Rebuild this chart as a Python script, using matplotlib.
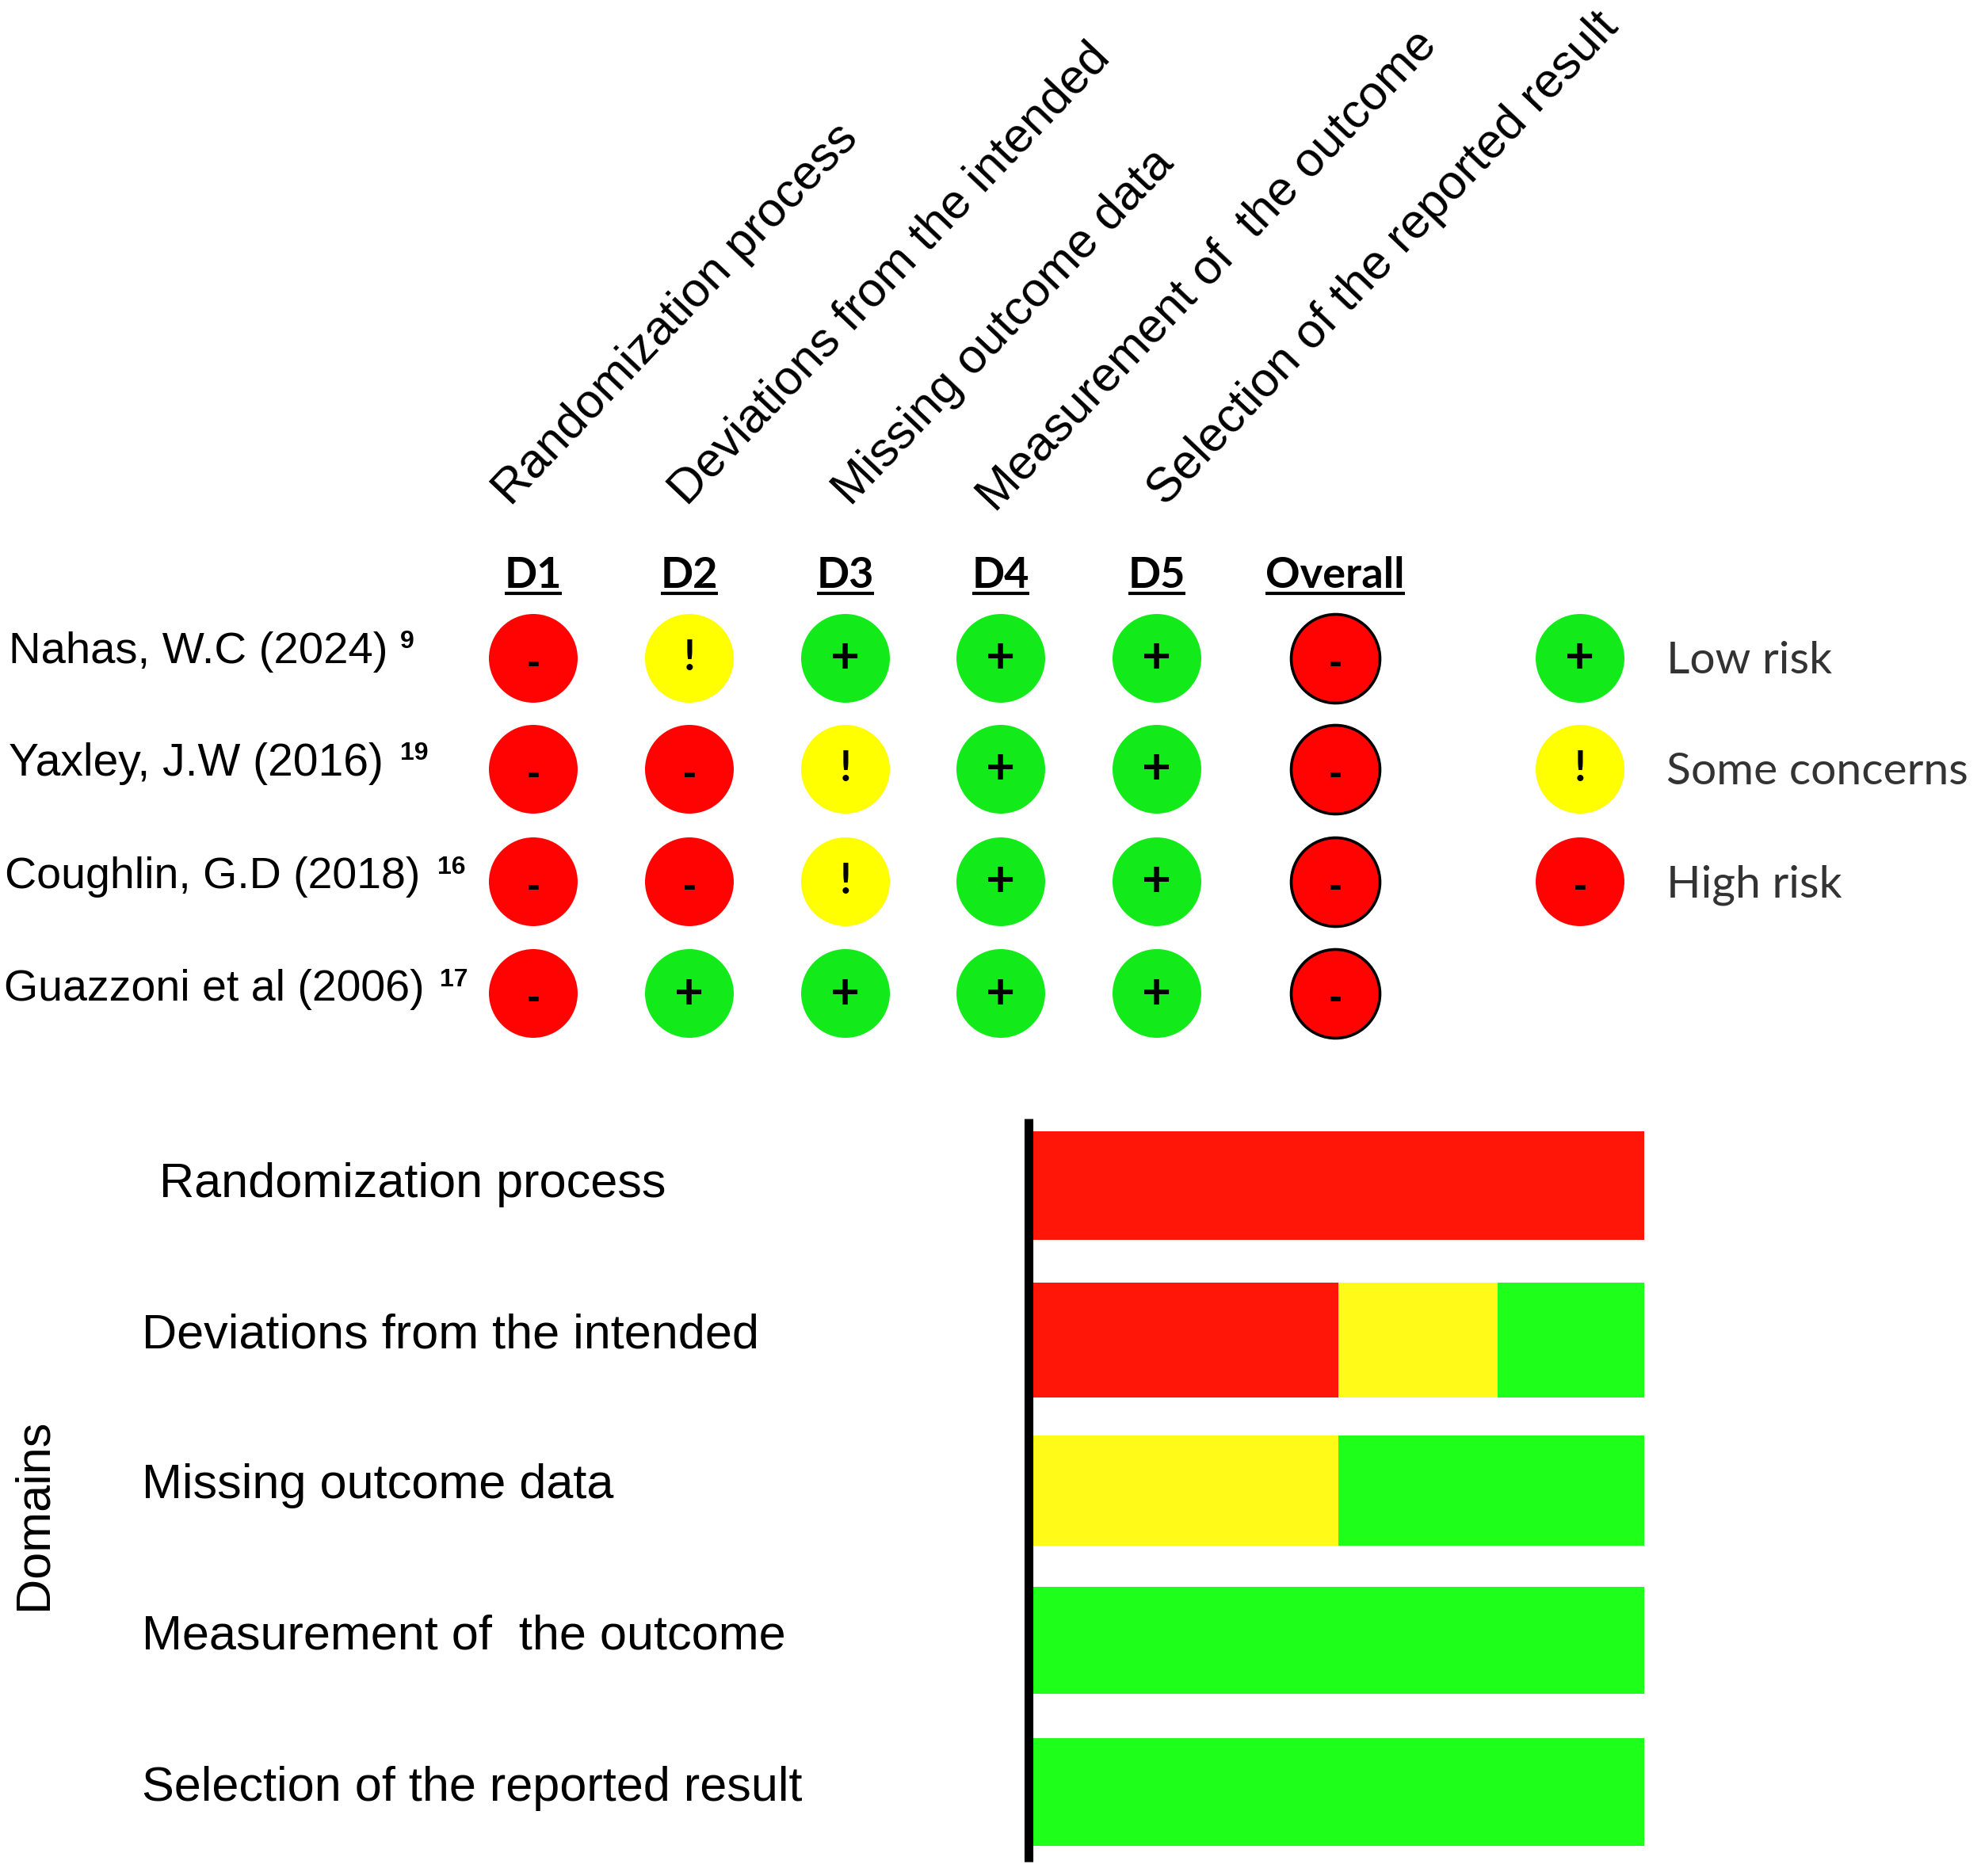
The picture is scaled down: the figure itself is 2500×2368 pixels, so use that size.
import matplotlib
matplotlib.use('Agg')
import matplotlib.pyplot as plt

# traffic light data
studies = ['Nahas, W.C (2024)', 'Yaxley, J.W (2016)', 'Coughlin, G.D (2018)', 'Guazzoni et al (2006)']
refs = ['9', '19', '16', '17']
columns = ['D1', 'D2', 'D3', 'D4', 'D5', 'Overall']
d1 = ['-', '-', '-', '-']
d2 = ['!', '-', '-', '+']
d3 = ['+', '!', '!', '+']
d4 = ['+', '+', '+', '+']
d5 = ['+', '+', '+', '+']
overall = ['-', '-', '-', '-']
legend_symbols = ['+', '!', '-']
legend_labels = ['Low risk', 'Some concerns', 'High risk']

# summary bars, percent per domain
domains = ['Randomization process', 'Deviations from the intended', 'Missing outcome data',
           'Measurement of  the outcome', 'Selection of the reported result']
high = [100, 50, 0, 0, 0]
some = [0, 26, 50, 0, 0]
low = [0, 24, 50, 100, 100]

# layout in pixels of the 2500x2368 picture
col_x = [673, 870, 1067, 1263, 1460, 1685]
row_y = [831, 971, 1113, 1254]
study_x = [11, 11, 6, 5]
study_y = [823, 964, 1107, 1249]
ref_x = [505, 505, 552, 555]
ref_y = [810, 951, 1095, 1237]
study_size = [40.5, 41, 40, 40]
head_start = [(645, 640), (867, 640), (1074, 640), (1256, 648), (1471, 640)]
dom_x = [201, 179, 179, 179, 179]
dom_y = [1496, 1686, 1875, 2066, 2258]
circle_colors = {'+': '#12EA1A', '!': '#FFFF00', '-': '#FF0303'}
sym_dy = {'+': 0, '!': 0, '-': 7}
sym_size = {'+': 46, '!': 38}

arial = ['Liberation Sans', 'DejaVu Sans']
calibri = ['Lato', 'DejaVu Sans']

fig = plt.figure(figsize=(25, 23.68), dpi=100)
ax = fig.add_axes([0, 0, 1, 1])
ax.set_xlim(0, 2500)
ax.set_ylim(2368, 0)
ax.axis('off')


def light(x, y, sym, edge=False):
    ax.scatter([x], [y], s=6500, c=circle_colors[sym],
               edgecolors='black' if edge else 'none', linewidths=2.6 if edge else 0, zorder=2)
    if sym == '-':
        ax.text(x, y + sym_dy[sym], '-', ha='center', va='center', fontsize=36, fontweight='bold',
                family=arial, zorder=3)
    else:
        ax.text(x, y + sym_dy[sym], sym, ha='center', va='center', fontsize=sym_size[sym], fontweight='bold',
                family=calibri, zorder=3)


# rotated headers
for i, (x, y) in enumerate(head_start):
    ax.text(x, y, domains[i], rotation=46.5, rotation_mode='anchor', ha='left', va='baseline',
            fontsize=44, family=arial, color='black')

# column heads with underline
fig.canvas.draw()
rend = fig.canvas.get_renderer()
for x, name in zip(col_x, columns):
    t = ax.text(x, 727, name, ha='center', va='center', fontsize=39, fontweight='bold', family=calibri)
    bb = t.get_window_extent(rend)
    ax.plot([bb.x0, bb.x1], [749, 749], color='black', lw=3, solid_capstyle='butt')

# studies and circles
for r in range(len(studies)):
    ax.text(study_x[r], study_y[r], studies[r], ha='left', va='center', fontsize=study_size[r], family=arial)
    ax.text(ref_x[r], ref_y[r], refs[r], ha='left', va='center', fontsize=23, fontweight='bold', family=arial)
for c, col in enumerate([d1, d2, d3, d4, d5, overall]):
    for r, sym in enumerate(col):
        light(col_x[c], row_y[r], sym, edge=columns[c] == 'Overall')

# legend
for r in range(3):
    light(1994, row_y[r], legend_symbols[r])
    ax.text(2103, row_y[r] + 4, legend_labels[r], ha='left', va='center', fontsize=41,
            family=calibri, color='#333333')

# domain labels left of the bars
for i in range(len(domains)):
    ax.text(dom_x[i], dom_y[i], domains[i], ha='left', va='center', fontsize=44, family=arial)
ax.text(43, 1911, 'Domains', rotation=90, ha='center', va='center', fontsize=44, family=arial)

# summary bars
bx = fig.add_axes([1297.5 / 2500, 1 - 2350 / 2368, (2075 - 1297.5) / 2500, (2350 - 1412) / 2368])
bx.patch.set_alpha(0)
bar_pos = [0, 0.018, 0.012, 0, 0]
bar_h = [0.716, 0.76, 0.727, 0.706, 0.706]
ypos = [i + bar_pos[i] for i in range(len(domains))]
left_some = [h for h in high]
left_low = [h + s for h, s in zip(high, some)]
bx.barh(ypos, high, height=bar_h, color='#FF1608')
bx.barh(ypos, some, height=bar_h, left=left_some, color='#FFFA17')
bx.barh(ypos, low, height=bar_h, left=left_low, color='#1EFF1A')
bx.set_xlim(-0.71, 100)
bx.set_ylim(4.46, -0.444)
bx.set_xticks([])
bx.set_yticks([])
for s in ['top', 'right', 'bottom']:
    bx.spines[s].set_visible(False)
bx.spines['left'].set_linewidth(8)
bx.spines['left'].set_capstyle('butt')

fig.savefig('out.png', dpi=100, facecolor='white')
